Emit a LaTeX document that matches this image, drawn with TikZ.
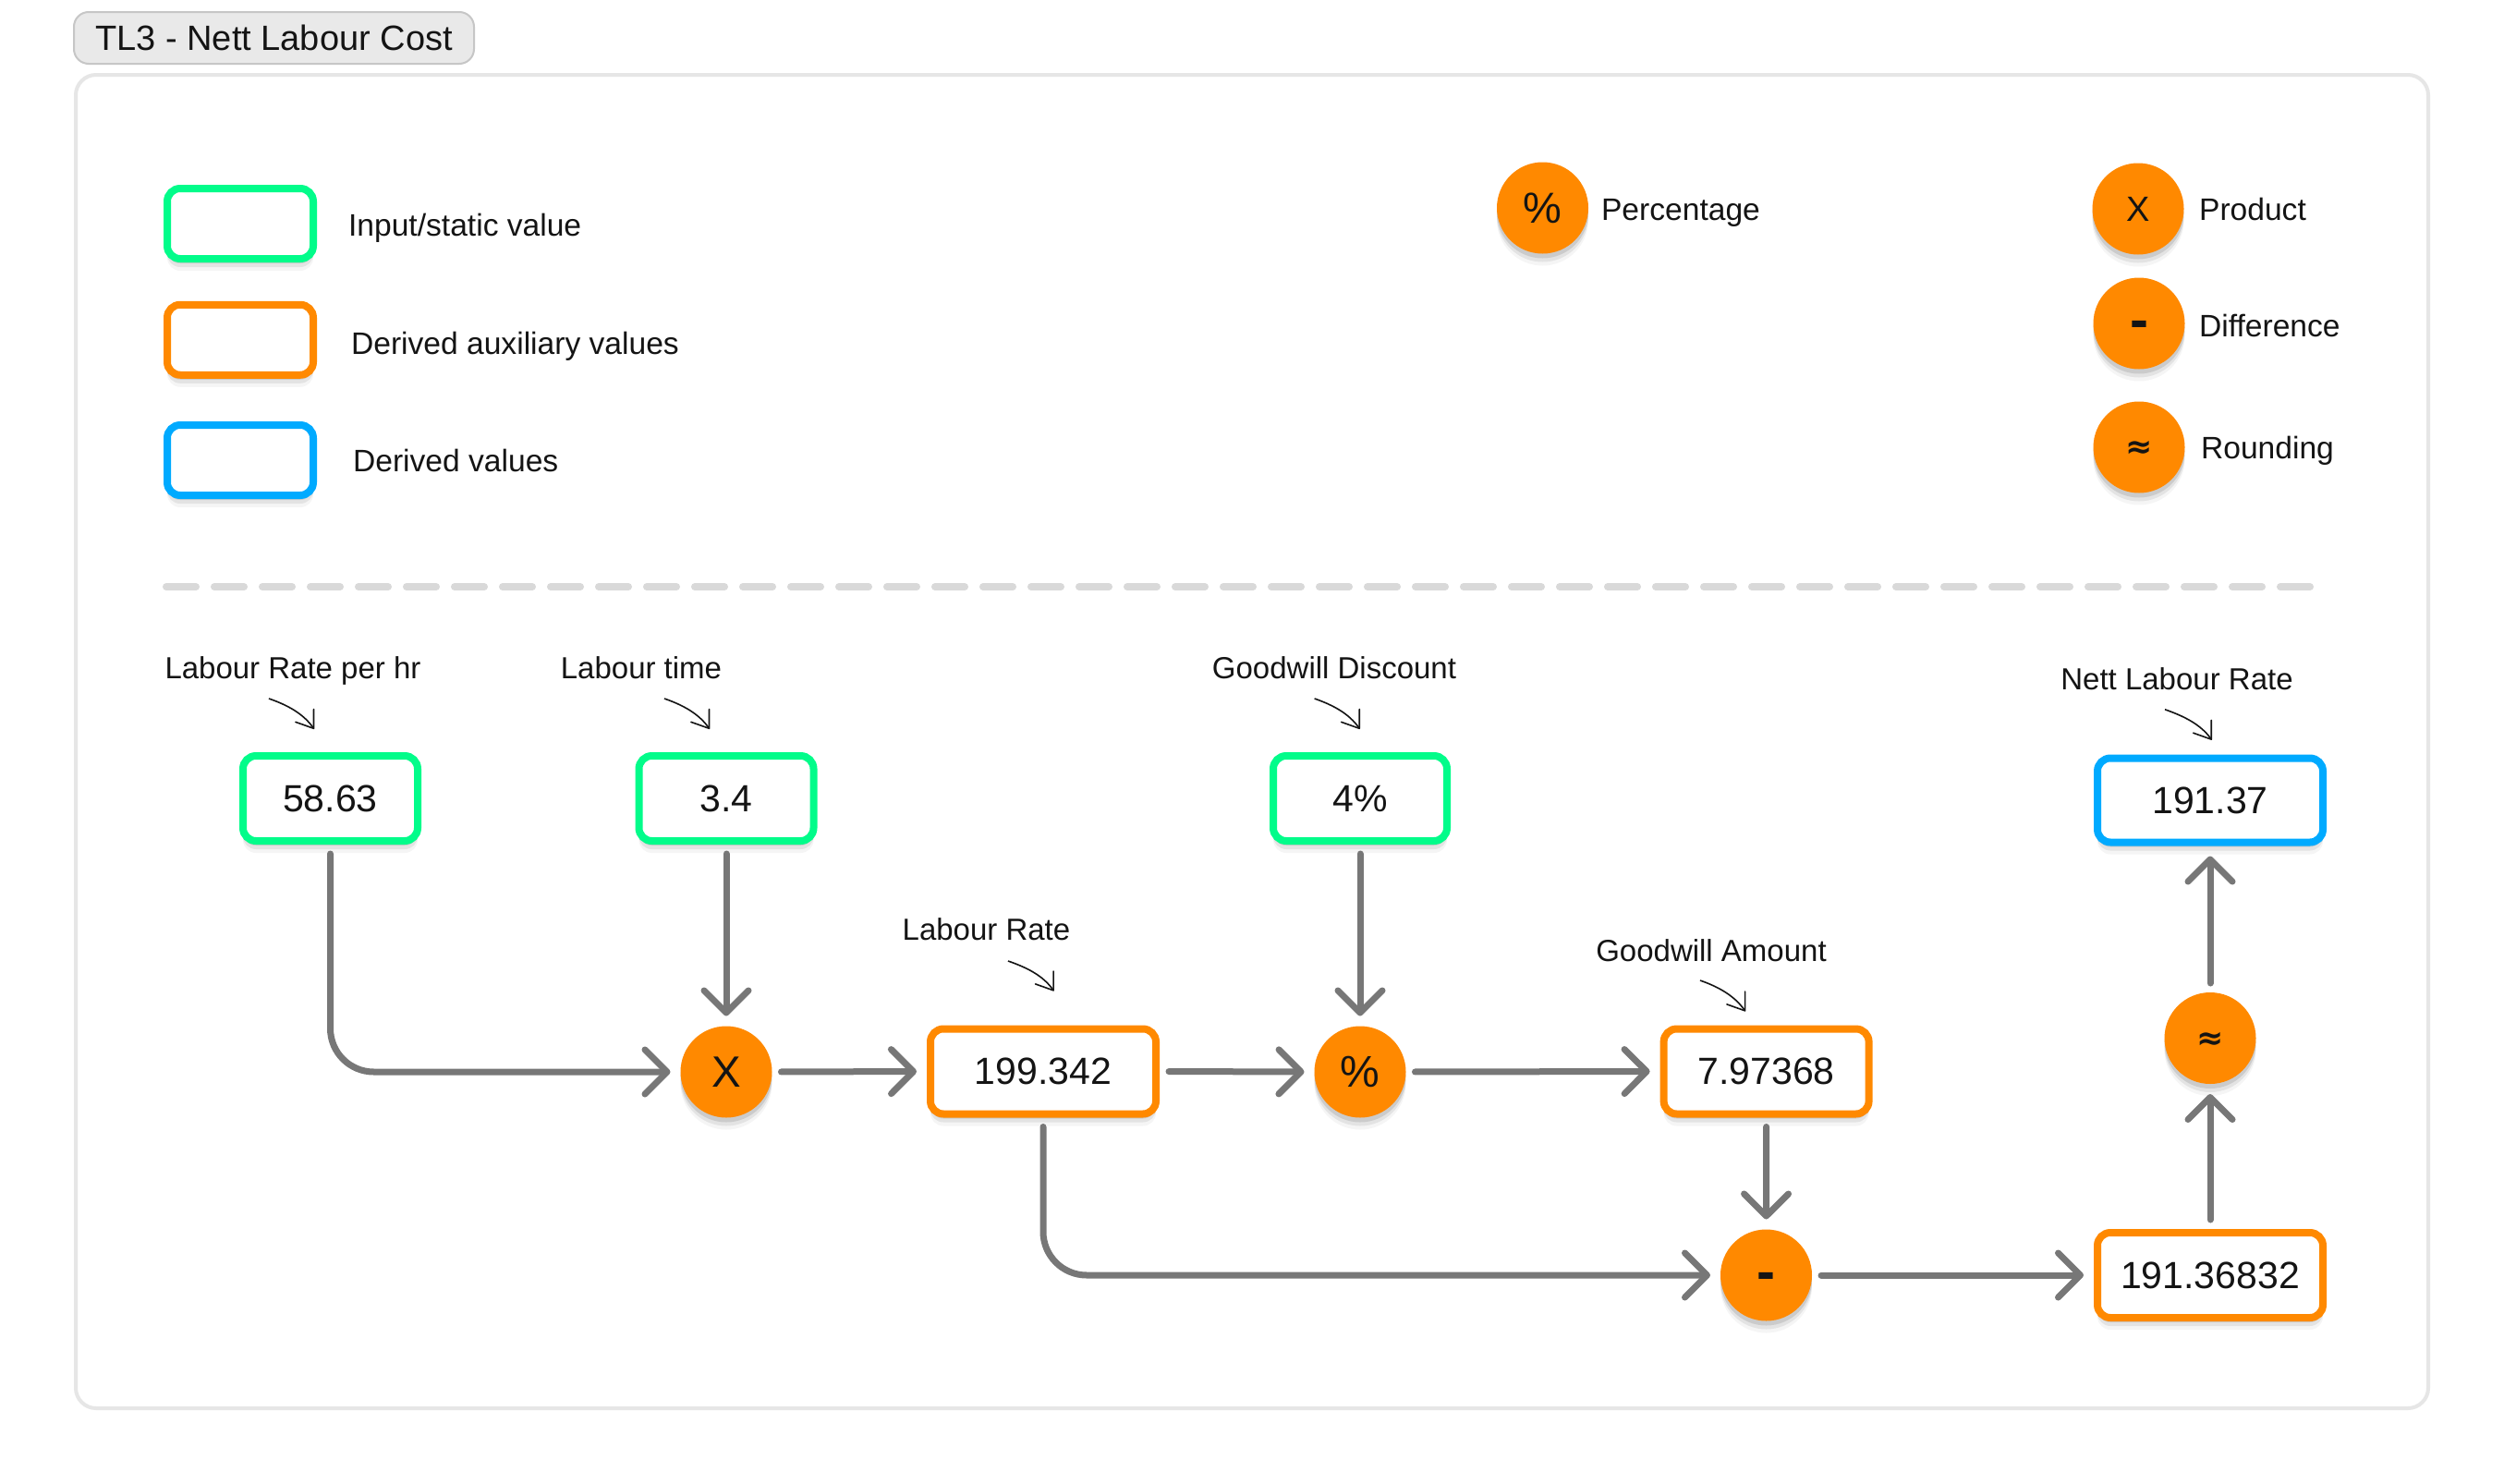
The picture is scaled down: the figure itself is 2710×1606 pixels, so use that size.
\documentclass[tikz,border=0pt]{standalone}
\usepackage{fontspec}
\setmainfont{Liberation Sans}
\newfontfamily\symfont{DejaVu Sans}
\usetikzlibrary{arrows.meta,shadows}
\definecolor{ingreen}{RGB}{2,252,138}
\definecolor{auxorange}{RGB}{255,137,0}
\definecolor{outblue}{RGB}{0,170,255}
\definecolor{flowgray}{RGB}{119,119,119}
\definecolor{dashgray}{RGB}{217,217,217}
\definecolor{framegray}{RGB}{230,230,230}
\definecolor{tabfill}{RGB}{233,233,233}
\definecolor{tabline}{RGB}{198,198,198}
\definecolor{ink}{RGB}{20,20,20}

\begin{document}
\begin{tikzpicture}[x=0.5pt,y=-0.5pt,
  every node/.style={text=ink},
  shade/.style={drop shadow={shadow xshift=0pt,shadow yshift=-2.5pt,opacity=0.10,fill=black},
    drop shadow={shadow xshift=0pt,shadow yshift=-4.5pt,opacity=0.07,fill=black},
    drop shadow={shadow xshift=0pt,shadow yshift=-6.5pt,opacity=0.04,fill=black}},
  valbox/.style={draw,line width=4pt,rounded corners=7pt,fill=white,shade,
    minimum height=46pt,inner sep=0pt,font=\fontsize{20.5pt}{24pt}\selectfont},
  inbox/.style={valbox,draw=ingreen,minimum width=94.5pt},
  auxbox/.style={valbox,draw=auxorange},
  outbox/.style={valbox,draw=outblue},
  legbox/.style={draw,line width=4pt,rounded corners=7pt,fill=white,shade,
    minimum width=79pt,minimum height=38pt},
  legtext/.style={anchor=base west,font=\fontsize{16.8pt}{20pt}\selectfont},
  opnode/.style={circle,fill=auxorange,minimum size=49.5pt,inner sep=0pt,outer sep=0pt,shade,
    font=\fontsize{23.7pt}{26pt}\selectfont},
  lbl/.style={anchor=base,font=\fontsize{16.5pt}{20pt}\selectfont},
  flow/.style={draw=flowgray,line width=3.5pt,line cap=round,rounded corners=23.5pt,
    -{Straight Barb[length=12pt,width=24pt,round]},shorten <=5pt,shorten >=5.5pt},
  note/.style={draw=ink,line width=0.8pt,-{Straight Barb[length=8.5pt,width=12pt,round]}},
  tab/.style={draw=tabline,fill=tabfill,line width=1pt,rounded corners=8pt,
    minimum width=216.5pt,minimum height=28pt,font=\fontsize{19pt}{22pt}\selectfont}]
\useasboundingbox (0,0) rectangle (2710,1606);
\fill[white] (0,0) rectangle (2710,1606);

% title and frame
\node[tab] (title) at (296.5,41) {TL3 - Nett Labour Cost};
\draw[framegray,line width=2pt,rounded corners=11pt] (82,81) rectangle (2628,1524);

% legend
\node[legbox,draw=ingreen] (legin) at (260,242) {};
\node[legtext] (leginlbl) at (370,255.6) {Input/static value};
\node[legbox,draw=auxorange] (legaux) at (260,367.75) {};
\node[legtext] (legauxlbl) at (373,383.9) {Derived auxiliary values};
\node[legbox,draw=outblue] (legout) at (260,498) {};
\node[legtext] (legoutlbl) at (375,510) {Derived values};

\node[opnode,font=\fontsize{23.5pt}{26pt}\selectfont] (legpct) at (1669.5,225) {\%};
\node[legtext] (legpctlbl) at (1726,238.5) {Percentage};
\node[opnode,font=\fontsize{19pt}{22pt}\selectfont] (legprod) at (2314,226) {X};
\node[legtext] (legprodlbl) at (2373,238.5) {Product};
\node[opnode,font=\bfseries\fontsize{30pt}{30pt}\selectfont,text height=16pt,text depth=0pt] (legdiff) at (2315,350) {-};
\node[legtext] (legdifflbl) at (2373,364.8) {Difference};
\node[opnode,font=\symfont\bfseries\fontsize{17.5pt}{20pt}\selectfont,text height=11.6pt,text depth=0pt] (legrnd) at (2315,484) {≈};
\node[legtext] (legrndlbl) at (2375,496.6) {Rounding};

\draw[dashgray,line width=4pt,line cap=round,dash pattern=on 16pt off 10pt] (180,635) -- (2516,635);

% values
\node[inbox] (rate) at (357.5,864) {58.63};
\node[inbox] (time) at (786,864) {3.4};
\node[inbox,minimum width=94pt] (disc) at (1472,864) {4\%};
\node[outbox,minimum width=122pt,minimum height=45.5pt] (nett) at (2392,866) {191.37};
\node[auxbox,minimum width=122pt] (lrate) at (1129,1159.5) {199.342};
\node[auxbox,minimum width=111pt] (gamt) at (1911.6,1159.5) {7.97368};
\node[auxbox,minimum width=122pt] (sub) at (2392,1380) {191.36832};

% operations
\node[opnode] (prod) at (786,1160) {X};
\node[opnode,font=\fontsize{24pt}{26pt}\selectfont] (pct) at (1472,1160) {\%};
\node[opnode,font=\bfseries\fontsize{30pt}{30pt}\selectfont,text height=16pt,text depth=0pt] (diff) at (1911.5,1380) {-};
\node[opnode,font=\symfont\bfseries\fontsize{17.5pt}{20pt}\selectfont,text height=11.6pt,text depth=0pt] (rnd) at (2392,1123.5) {≈};

% names
\node[lbl] (ratelbl) at (317,734.3) {Labour Rate per hr};
\node[lbl] (timelbl) at (694,734.3) {Labour time};
\node[lbl] (disclbl) at (1444,734.3) {Goodwill Discount};
\node[lbl] (nettlbl) at (2356,746.3) {Nett Labour Rate};
\node[lbl] (lratelbl) at (1067.5,1017.5) {Labour Rate};
\node[lbl] (gamtlbl) at (1852,1040) {Goodwill Amount};

\draw[note] ([shift={(-26,21.7)}]ratelbl.base) .. controls +(20,7) and +(-12,-17) .. ([shift={(-17.5,-25)}]rate.north);
\draw[note] ([shift={(25,21.7)}]timelbl.base) .. controls +(20,7) and +(-12,-17) .. ([shift={(-18,-25)}]time.north);
\draw[note] ([shift={(-21.4,21.7)}]disclbl.base) .. controls +(20,7) and +(-12,-17) .. ([shift={(-0.3,-25)}]disc.north);
\draw[note] ([shift={(-13,21.5)}]nettlbl.base) .. controls +(20,7) and +(-12,-17) .. ([shift={(1.7,-15.7)}]nett.north);
\draw[note] ([shift={(23.5,22.5)}]lratelbl.base) .. controls +(20,7) and +(-12,-17) .. ([shift={(11.6,-37)}]lrate.north);
\draw[note] ([shift={(-12,21)}]gamtlbl.base) .. controls +(20,7) and +(-12,-17) .. ([shift={(-22.6,-15)}]gamt.north);

% flow
\draw[flow] (rate.south) |- (prod.west);
\draw[flow] (time.south) -- (prod.north);
\draw[flow] (prod.east) -- (lrate.west);
\draw[flow] (lrate.east) -- (pct.west);
\draw[flow] (disc.south) -- (pct.north);
\draw[flow] (pct.east) -- (gamt.west);
\draw[flow] (gamt.south) -- (diff.north);
\draw[flow] (lrate.south) |- (diff.west);
\draw[flow] (diff.east) -- (sub.west);
\draw[flow] (sub.north) -- (rnd.south);
\draw[flow] (rnd.north) -- (nett.south);
\end{tikzpicture}
\end{document}
